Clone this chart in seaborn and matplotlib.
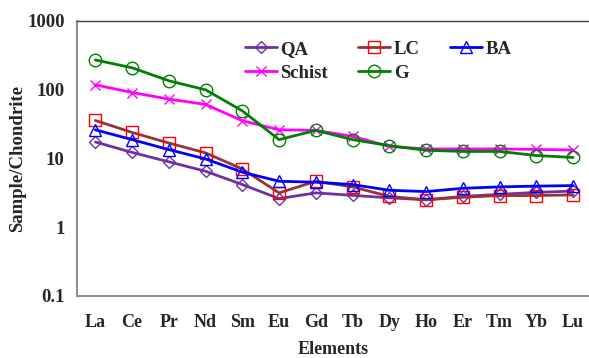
import matplotlib
matplotlib.use("Agg")
import matplotlib.pyplot as plt
import seaborn as sns
import numpy as np
import pandas as pd

elements = ["La", "Ce", "Pr", "Nd", "Sm", "Eu", "Gd", "Tb", "Dy", "Ho", "Er", "Tm", "Yb", "Lu"]
qa = [17.3, 12.2, 8.9, 6.5, 4.16, 2.6, 3.15, 2.9, 2.67, 2.5, 2.8, 3.0, 3.2, 3.35]
lc = [35.5, 23.8, 16.7, 12.0, 7.0, 3.15, 4.65, 3.85, 2.8, 2.5, 2.72, 2.88, 2.88, 2.95]
ba = [26.0, 18.7, 13.4, 9.8, 6.3, 4.65, 4.5, 4.16, 3.44, 3.29, 3.67, 3.85, 3.95, 4.02]
schist = [117, 90.5, 72.6, 60.7, 35.2, 26.0, 25.5, 20.9, 14.9, 13.7, 13.7, 13.7, 13.5, 13.2]
g = [269, 207, 134, 99, 49, 18.7, 25.5, 18.7, 15.3, 13.1, 12.6, 12.6, 11.0, 10.3]

series_names = ["QA", "LC", "BA", "Schist", "G"]
series_values = [qa, lc, ba, schist, g]
line_colors = ["#7030A0", "#993333", "#0000FF", "#FF00FF", "#008000"]
marker_colors = ["#7030A0", "#FF0000", "#0000FF", "#FF00FF", "#008000"]
markers = ["D", "s", "^", "x", "o"]
marker_sizes = [6, 9, 8, 7, 9]

sns.set_style("white")
plt.rcParams["font.family"] = ["Liberation Serif", "DejaVu Serif"]
plt.rcParams["font.weight"] = "bold"

fig = plt.figure(figsize=(5.89, 3.58), dpi=100)
ax = fig.add_axes([77 / 589, 1 - 296 / 358, (591.4 - 77) / 589, (296 - 20.7) / 358])

pos = np.arange(len(elements))
handles = []
for name, vals, lcol, mcol, mk, ms in zip(series_names, series_values, line_colors,
                                           marker_colors, markers, marker_sizes):
    df = pd.DataFrame({"x": pos, "y": vals})
    sns.lineplot(data=df, x="x", y="y", ax=ax, color=lcol, linewidth=2.0,
                 sort=False, label=name, legend=False)
    line = ax.lines[-1]
    line.set_marker(mk)
    line.set_markersize(ms)
    line.set_markerfacecolor("none")
    line.set_markeredgecolor(mcol)
    line.set_markeredgewidth(1.0)
    handles.append(line)

ax.set_yscale("log")
ax.set_ylim(0.1, 1000)
ax.set_xlim(-0.5, len(elements) - 0.5)
ax.set_yticks([0.1, 1, 10, 100, 1000])
ax.set_yticklabels(["0.1", "1", "10", "100", "1000"], fontsize=13.5, fontweight="bold")
ax.yaxis.set_minor_locator(matplotlib.ticker.NullLocator())
ax.set_xticks(pos)
ax.set_xticklabels(elements, fontsize=13, fontweight="bold")
ax.set_xticks(np.arange(-0.5, len(elements), 1.0), minor=True)
ax.tick_params(axis="x", which="major", length=0, pad=13)
ax.tick_params(axis="x", which="minor", length=5, width=1, color="#909090", direction="out")
ax.tick_params(axis="y", which="major", length=5, width=1, color="#909090", direction="out", pad=4)

for side in ["left", "bottom"]:
    ax.spines[side].set_color("#909090")
    ax.spines[side].set_linewidth(1.5)
ax.spines["top"].set_color("#404040")
ax.spines["top"].set_linewidth(1.0)
ax.spines["right"].set_visible(False)

ax.set_xlabel("Elements", fontsize=13, fontweight="bold")
ax.set_ylabel("Sample/Chondrite", fontsize=13.5, fontweight="bold")
ax.yaxis.set_label_coords((18 - 77) / 514.4, 0.5)
ax.xaxis.set_label_coords((333 - 77) / 514.4, -(350 - 296) / 275.3)
ax.xaxis.label.set_va("center")
ax.yaxis.label.set_va("center")

order = [0, 3, 1, 4, 2]
leg = fig.legend([handles[i] for i in order], [series_names[i] for i in order],
                 loc="upper left", bbox_to_anchor=(228 / 589, 1 - 24 / 358), ncol=3,
                 frameon=False, prop={"weight": "bold", "size": 13.5},
                 handlelength=1.7, handletextpad=0.2, columnspacing=1.6, labelspacing=0.35)

fig.savefig("out.png", dpi=100)
